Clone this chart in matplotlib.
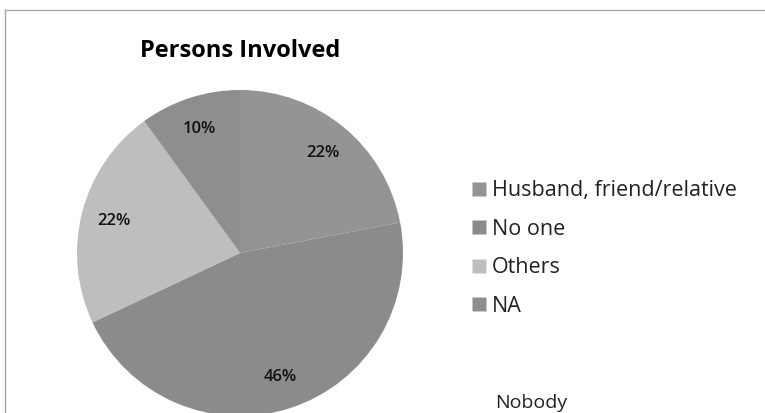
import matplotlib
matplotlib.use('Agg')
import matplotlib.pyplot as plt
from matplotlib.lines import Line2D
import numpy as np

labels = ['Husband, friend/relative', 'No one', 'Others', 'NA']
values = [22, 46, 22, 10]
pct_text = ['22%', '46%', '22%', '10%']
colors = ['#949494', '#8b8b8b', '#bebebe', '#8e8e8e']

plt.rcParams['font.family'] = ['Open Sans', 'DejaVu Sans']

W, H = 765, 413
fig = plt.figure(figsize=(W / 100, H / 100), dpi=100)

# pie centre (240, 253) px, radius 163 px
cx, cy, r = 240, 253, 163
ax = fig.add_axes([(cx - r) / W, (H - cy - r) / H, 2 * r / W, 2 * r / H])
wedges, _ = ax.pie(values, colors=colors, startangle=90, counterclock=False,
                   wedgeprops=dict(linewidth=0))
for w, t in zip(wedges, pct_text):
    ang = np.deg2rad((w.theta1 + w.theta2) / 2)
    ax.text(0.8 * np.cos(ang), 0.8 * np.sin(ang), t, ha='center', va='center',
            fontsize=12, fontweight='semibold', color='#111111')
ax.set_xlim(-1, 1)
ax.set_ylim(-1, 1)
ax.set_aspect('equal')

# chart frame
fig.add_artist(Line2D([5 / W, 1], [1 - 10 / H, 1 - 10 / H], color='#a6a6a6', lw=1))
fig.add_artist(Line2D([5 / W, 5 / W], [0, 1 - 10 / H], color='#a6a6a6', lw=1))

fig.text(140 / W, 1 - 51 / H, 'Persons Involved', fontsize=17, fontweight='bold',
         ha='left', va='center', color='#000000')

handles = [Line2D([], [], marker='s', linestyle='none', markersize=10,
                  markerfacecolor=c, markeredgecolor='none') for c in colors]
fig.legend(handles, labels, loc='upper left', bbox_to_anchor=(449 / W, 1 - 161 / H),
           frameon=False, fontsize=15.5, labelspacing=0.81, handletextpad=0.1,
           handlelength=1.0, labelcolor='#222222')

fig.text(495 / W, 1 - 403 / H, 'Nobody', fontsize=14, ha='left', va='center',
         color='#222222')

fig.savefig('out.png', dpi=100)
